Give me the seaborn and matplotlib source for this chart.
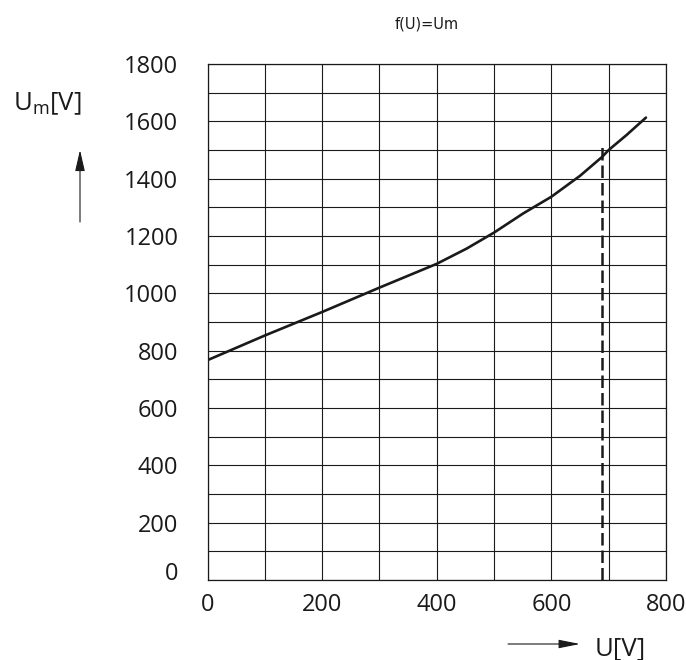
import matplotlib
matplotlib.use("Agg")
import matplotlib.pyplot as plt
import matplotlib.transforms as mtransforms
import numpy as np
import pandas as pd
import seaborn as sns

# curve f(U) = Um
u_values = [0, 100, 200, 300, 400, 452, 500, 551, 600, 650, 688, 700, 731, 765]
um_values = [767, 853, 935, 1020, 1103, 1156, 1212, 1279, 1337, 1410, 1475, 1500, 1552, 1613]

# dashed marker line
u_marker = 689
um_marker_top = 1525

x_ticks = [0, 200, 400, 600, 800]
y_ticks = [0, 200, 400, 600, 800, 1000, 1200, 1400, 1600, 1800]

df = pd.DataFrame({"U": u_values, "Um": um_values})

sns.set_theme(style="white")
plt.rcParams["font.family"] = ["Open Sans", "DejaVu Sans"]

fig = plt.figure(figsize=(6.86, 6.6), dpi=100)
ax = fig.add_axes([207.6 / 686, 80 / 660, (666 - 207.6) / 686, (580 - 64) / 660])

sns.lineplot(data=df, x="U", y="Um", ax=ax, color="#1a1a1a", lw=1.9, sort=False)
ax.plot([u_marker, u_marker], [0, um_marker_top], color="#1a1a1a", lw=1.8,
        dashes=(5, 2))

ax.set_xlim(0, 800)
ax.set_ylim(0, 1800)
ax.set_xticks(x_ticks)
ax.set_yticks(y_ticks)
ax.set_xticks(np.arange(0, 801, 100), minor=True)
ax.set_yticks(np.arange(0, 1801, 100), minor=True)
ax.grid(which="both", color="#1a1a1a", lw=0.8)
ax.set_axisbelow(True)
ax.tick_params(which="both", length=0)
ax.tick_params(axis="y", pad=21, labelsize=17, labelcolor="#1a1a1a")
ax.tick_params(axis="x", pad=9.5, labelsize=17, labelcolor="#1a1a1a")
ax.set_xlabel("")
ax.set_ylabel("")
for s in ax.spines.values():
    s.set_color("#1a1a1a")
    s.set_linewidth(0.9)

# the "0" on the y axis sits a bit higher in the original
off = mtransforms.ScaledTranslation(0, 0.09, fig.dpi_scale_trans)
ylabs = ax.get_yticklabels()
ylabs[0].set_transform(ylabs[0].get_transform() + off)

fig.text(427 / 686, 1 - 24 / 660, "f(U)=Um", fontsize=10.5, family="DejaVu Sans",
         color="#1a1a1a", ha="center", va="center")

fig.text(13 / 686, 1 - 110 / 660, r"U$_\mathregular{m}$[V]", fontsize=18.5,
         ha="left", va="baseline", color="#1a1a1a")
fig.text(595 / 686, 1 - 655 / 660, "U[V]", fontsize=18.5,
         ha="left", va="baseline", color="#1a1a1a")

# arrows next to the axis names
fig.patches.append(matplotlib.patches.FancyArrowPatch(
    (80 / 686, 1 - 222 / 660), (80 / 686, 1 - 150 / 660),
    transform=fig.transFigure, arrowstyle="-|>,head_length=0.65,head_width=0.15",
    mutation_scale=20, lw=0.8, color="#1a1a1a", shrinkA=0, shrinkB=0))
fig.patches.append(matplotlib.patches.FancyArrowPatch(
    (508 / 686, 1 - 644 / 660), (580 / 686, 1 - 644 / 660),
    transform=fig.transFigure, arrowstyle="-|>,head_length=0.65,head_width=0.13",
    mutation_scale=20, lw=0.8, color="#1a1a1a", shrinkA=0, shrinkB=0))

fig.savefig("out.png", dpi=100)
